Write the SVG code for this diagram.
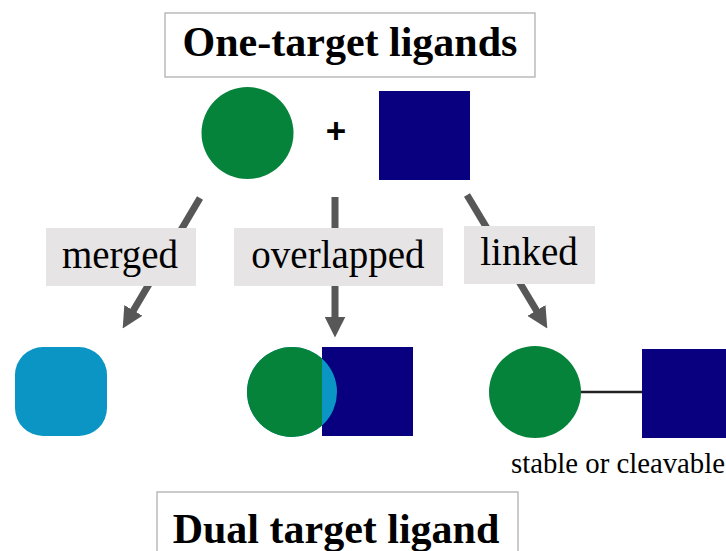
<svg xmlns="http://www.w3.org/2000/svg" width="726" height="551" viewBox="0 0 726 551">
  <style>
    .title { font-family: "Liberation Serif", "Times New Roman", serif; font-weight: bold; font-size: 42px; fill: #000; text-anchor: middle; }
    .tbox { fill: #fff; stroke: #b0b0b0; stroke-width: 1.3; }
    .lbox { fill: #e6e4e4; }
    .lbl { font-family: "Liberation Serif", "Times New Roman", serif; font-size: 39px; fill: #000; text-anchor: middle; }
    .small { font-family: "Liberation Serif", "Times New Roman", serif; font-size: 29px; fill: #000; }
    .green { fill: #06833a; }
    .navy { fill: #08007e; }
    .cyan { fill: #0a95c4; }
    .arrow { stroke: #575757; stroke-width: 7; fill: none; marker-end: url(#ah); }
  </style>
  <defs>
    <marker id="ah" viewBox="0 0 20 20" refX="8" refY="10" markerWidth="21" markerHeight="21" markerUnits="userSpaceOnUse" orient="auto">
      <path d="M0,0 L20,10 L0,20 z" fill="#575757"/>
    </marker>
    <clipPath id="leftOfSquare">
      <rect x="200" y="340" width="122" height="110"/>
    </clipPath>
  </defs>
  <rect width="726" height="551" fill="#fff"/>

  <g id="title-top">
    <rect class="tbox" x="165" y="13" width="370" height="64"/>
    <text class="title" x="350" y="56">One-target ligands</text>
  </g>

  <g id="ligand-circle">
    <circle class="green" cx="247.5" cy="133" r="46"/>
  </g>
  <g id="plus">
    <text x="336" y="143" font-family="Liberation Sans, Arial, sans-serif" font-weight="bold" font-size="35" text-anchor="middle" fill="#000">+</text>
  </g>
  <g id="ligand-square">
    <rect class="navy" x="379" y="91" width="91" height="89"/>
  </g>

  <g id="connectors">
    <line class="arrow" x1="200" y1="198" x2="129.1" y2="317.7"/>
    <line class="arrow" x1="335" y1="197" x2="335" y2="325"/>
    <line class="arrow" x1="467" y1="195" x2="540.8" y2="317.7"/>
  </g>

  <g id="label-merged">
    <rect class="lbox" x="46" y="228" width="150" height="58"/>
    <text class="lbl" x="120" y="268">merged</text>
  </g>
  <g id="label-overlapped">
    <rect class="lbox" x="234" y="228" width="209" height="58"/>
    <text class="lbl" x="338" y="268">overlapped</text>
  </g>
  <g id="label-linked">
    <rect class="lbox" x="464" y="226" width="131" height="58"/>
    <text class="lbl" x="529" y="265">linked</text>
  </g>

  <g id="merged-ligand">
    <rect class="cyan" x="15" y="347" width="92" height="89" rx="28" ry="28"/>
  </g>

  <g id="overlapped-ligand">
    <rect class="navy" x="322" y="347" width="91" height="89"/>
    <circle class="cyan" cx="292" cy="392" r="45"/>
    <circle class="green" cx="292" cy="392" r="45" clip-path="url(#leftOfSquare)"/>
  </g>

  <g id="linked-ligand">
    <line x1="580" y1="392" x2="643" y2="392" stroke="#222" stroke-width="2.5"/>
    <circle class="green" cx="535" cy="392" r="46"/>
    <rect class="navy" x="642" y="349" width="90" height="89"/>
    <text class="small" x="511" y="473" textLength="214" lengthAdjust="spacingAndGlyphs">stable or cleavable</text>
  </g>

  <g id="title-bottom">
    <rect class="tbox" x="157" y="492" width="361" height="70"/>
    <text class="title" x="336" y="543">Dual target ligand</text>
  </g>
</svg>
